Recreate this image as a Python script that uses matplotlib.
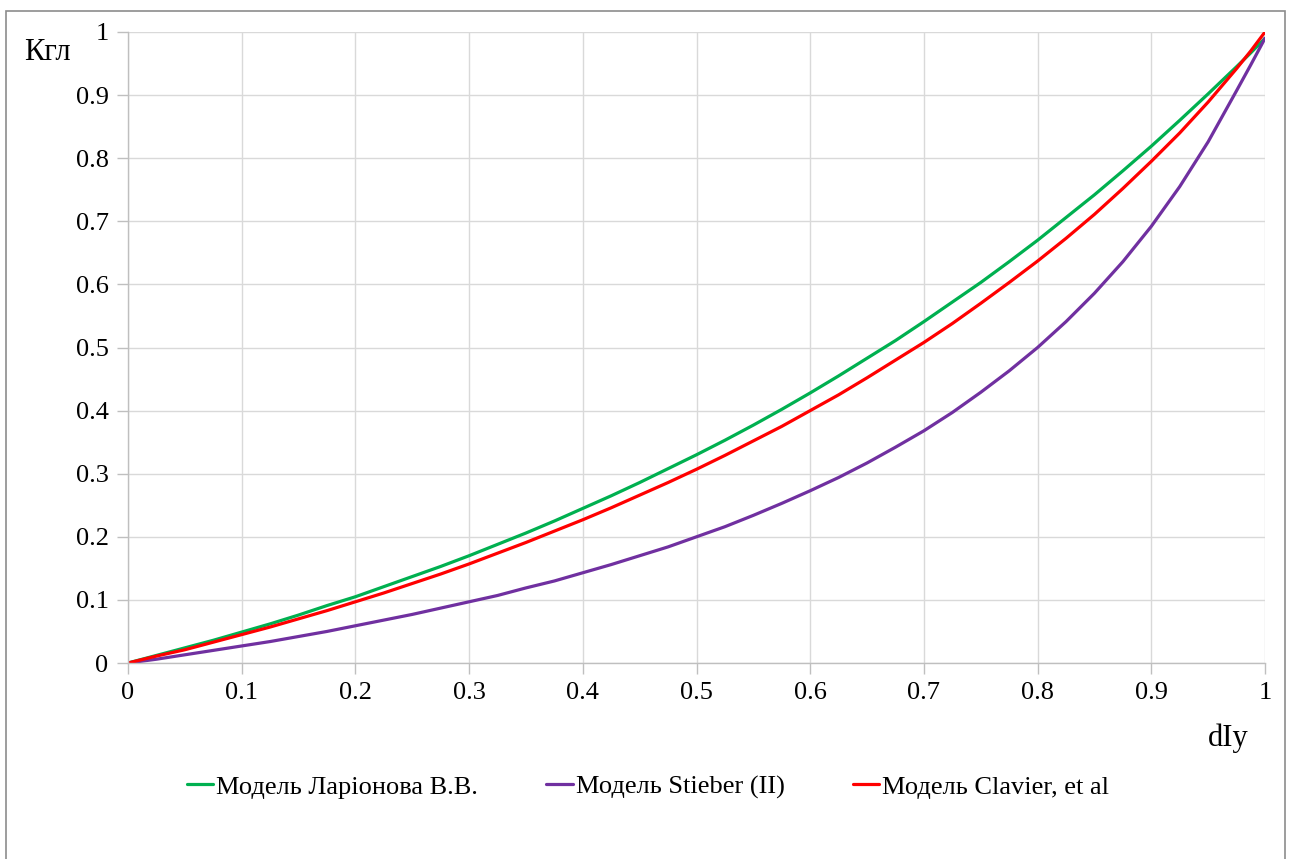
import numpy as np
import matplotlib.pyplot as plt
from matplotlib.patches import Rectangle

plt.rcParams['font.family'] = ['Liberation Serif', 'DejaVu Serif']

# dIy values and shale-volume curves for three models
d_iy = [0.0, 0.025, 0.05, 0.075, 0.1, 0.125, 0.15, 0.175, 0.2, 0.225, 0.25, 0.275,
        0.3, 0.325, 0.35, 0.375, 0.4, 0.425, 0.45, 0.475, 0.5, 0.525, 0.55, 0.575,
        0.6, 0.625, 0.65, 0.675, 0.7, 0.725, 0.75, 0.775, 0.8, 0.825, 0.85, 0.875,
        0.9, 0.925, 0.95, 0.975, 0.9875, 1.0]
k_larionov = [0.0, 0.012, 0.024, 0.036, 0.049, 0.062, 0.076, 0.091, 0.105, 0.121, 0.137, 0.153,
              0.170, 0.188, 0.206, 0.225, 0.245, 0.265, 0.286, 0.308, 0.330, 0.353, 0.377, 0.402,
              0.428, 0.455, 0.483, 0.511, 0.541, 0.572, 0.603, 0.636, 0.670, 0.706, 0.742, 0.780,
              0.819, 0.860, 0.902, 0.945, 0.967, 0.990]
k_stieber = [0.0, 0.006, 0.013, 0.020, 0.027, 0.034, 0.042, 0.050, 0.059, 0.068, 0.077, 0.087,
             0.097, 0.107, 0.119, 0.130, 0.143, 0.156, 0.170, 0.184, 0.200, 0.216, 0.234, 0.253,
             0.273, 0.294, 0.317, 0.342, 0.368, 0.397, 0.429, 0.463, 0.500, 0.541, 0.586, 0.636,
             0.692, 0.755, 0.826, 0.907, 0.948, 0.990]
k_clavier = [0.0, 0.011, 0.021, 0.033, 0.045, 0.057, 0.070, 0.083, 0.097, 0.111, 0.126, 0.141,
             0.157, 0.174, 0.191, 0.209, 0.227, 0.246, 0.266, 0.286, 0.307, 0.329, 0.352, 0.375,
             0.400, 0.425, 0.452, 0.480, 0.508, 0.538, 0.570, 0.603, 0.637, 0.673, 0.711, 0.752,
             0.795, 0.840, 0.889, 0.942, 0.970, 1.0]

labels = ['Модель Ларіонова В.В.', 'Модель Stieber (II)', 'Модель Clavier, et al']
colors = ['#00B050', '#7030A0', '#FF0000']

W, H = 1291, 859
fig = plt.figure(figsize=(W / 100, H / 100), dpi=100)
ax = fig.add_axes([128 / W, 1 - 663 / H, (1265 - 128) / W, (663 - 32) / H])

for y, lab, c in zip([k_larionov, k_stieber, k_clavier], labels, colors):
    ax.plot(d_iy, y, color=c, lw=2.3, label=lab,
            solid_capstyle='round', solid_joinstyle='round')

ax.set_xlim(0, 1)
ax.set_ylim(0, 1)
ax.set_xticks(np.arange(0, 1.01, 0.1))
ax.set_yticks(np.arange(0, 1.01, 0.1))
ax.set_xticklabels(['0'] + ['%.1f' % v for v in np.arange(0.1, 0.95, 0.1)] + ['1'])
ax.set_yticklabels(['0'] + ['%.1f' % v for v in np.arange(0.1, 0.95, 0.1)] + ['1'])
ax.grid(True, color='#D9D9D9', lw=1)
ax.set_axisbelow(True)
for s in ['top', 'right']:
    ax.spines[s].set_visible(False)
for s in ['left', 'bottom']:
    ax.spines[s].set_color('#BFBFBF')
    ax.spines[s].set_linewidth(1)
ax.tick_params(length=8, width=1, color='#BFBFBF', labelsize=19, pad=6)

fig.text(47 / W, 1 - 53 / H, 'Кгл', fontsize=22, ha='center', va='center')
fig.text(1228 / W, 1 - 738 / H, 'dIy', fontsize=22, ha='center', va='center')

fig.legend(loc='center', bbox_to_anchor=(648 / W, 1 - 787 / H), ncol=3, frameon=False,
           fontsize=19, handlelength=1.0, handletextpad=0.1, columnspacing=2.6)

fig.add_artist(Rectangle((6 / W, -0.01), (1285 - 6) / W, 1.01 - 11 / H, transform=fig.transFigure,
                         fill=False, edgecolor='#8C8C8C', lw=1.2, clip_on=False))

fig.savefig('out.png', dpi=100)
